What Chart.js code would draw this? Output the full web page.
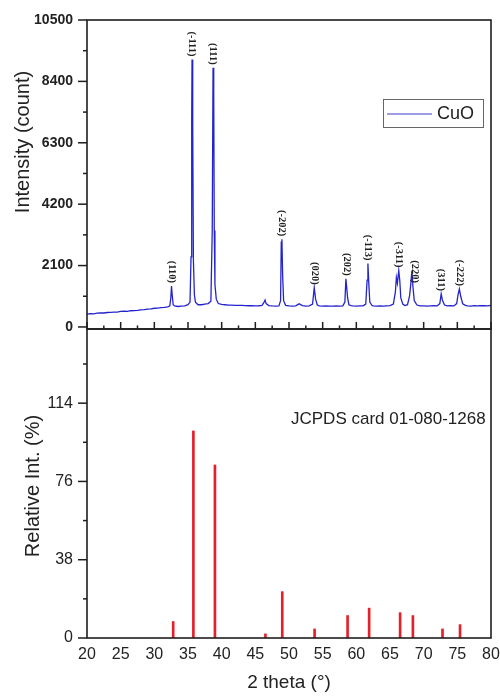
<!DOCTYPE html>
<html><head><meta charset="utf-8">
<script src="https://cdn.jsdelivr.net/npm/chart.js@4.4.0/dist/chart.umd.min.js"></script>
<style>
html,body{margin:0;padding:0;background:#fff;}
#wrap{position:relative;width:500px;height:696px;background:#fff;}
canvas{position:absolute;left:0;top:0;}
</style></head><body>
<div id="wrap"><canvas id="topChart" width="500" height="696"></canvas><canvas id="botChart" width="500" height="696"></canvas></div>
<script>
// ---- measured XRD pattern (CuO) ----
const thetaCuO = [20.0,20.5,21.0,21.5,22.0,22.5,23.0,23.5,24.0,24.5,25.0,25.5,26.0,26.5,27.0,27.5,28.0,28.5,29.0,29.5,30.0,30.5,31.0,31.5,32.0,32.3,32.45,32.55,32.65,32.8,33.0,33.5,34.0,34.5,35.0,35.3,35.45,35.55,35.6,35.7,35.8,35.95,36.1,36.5,37.0,37.5,38.0,38.4,38.6,38.72,38.82,38.9,39.0,39.2,39.5,40.0,40.5,41.0,41.5,42.0,42.5,43.0,43.5,44.0,44.5,45.0,45.5,46.0,46.3,46.45,46.6,47.0,47.5,48.0,48.5,48.75,48.85,48.95,49.05,49.2,49.5,50.0,50.5,51.0,51.5,52.0,52.5,53.0,53.5,53.75,53.95,54.2,54.5,55.0,55.5,56.0,56.5,57.0,57.5,58.0,58.3,58.45,58.55,58.7,58.9,59.2,59.5,60.0,60.5,61.0,61.4,61.6,61.72,61.85,62.0,62.3,62.5,63.0,63.5,64.0,64.5,65.0,65.5,65.8,65.95,66.1,66.3,66.45,66.6,66.9,67.2,67.6,67.9,68.1,68.25,68.4,68.6,69.0,69.5,70.0,70.5,71.0,71.5,72.0,72.4,72.6,72.8,73.1,73.5,74.0,74.5,74.9,75.1,75.3,75.5,75.8,76.2,76.5,77.0,77.5,78.0,78.5,79.0,79.5,80.0];
const intensityCuO = [440,455,450,470,480,478,495,500,510,505,530,540,535,555,560,570,585,590,610,620,640,645,660,670,690,720,1000,1400,1100,760,720,700,710,720,760,850,2400,7000,9150,6900,2300,1100,850,760,760,780,800,880,3300,8870,8000,3300,1450,950,800,770,760,750,745,740,735,740,730,725,730,720,725,740,850,920,800,730,720,715,720,900,2900,3000,1800,900,740,720,710,720,790,730,715,720,780,1340,950,750,720,715,720,710,715,720,710,720,850,1650,1400,1000,760,730,720,715,720,720,780,1600,2170,1500,850,740,720,715,720,710,720,730,780,1200,1690,1500,1930,1600,1000,780,730,760,1050,1500,1930,1400,900,750,720,720,710,720,730,720,800,1130,900,750,720,730,720,800,1100,1300,1050,790,740,720,715,730,720,725,730,720,740];
const peakLabels = ['(110)','(-111)','(111)','(-202)','(020)','(202)','(-113)','(-311)','(220)','(311)','(-222)'];
const peakLabelTheta = [32.55,35.6,38.72,48.9,53.75,58.5,61.72,66.3,68.7,72.6,75.3];

// ---- reference card JCPDS 01-080-1268 ----
const refTheta = [32.8,35.8,39.0,46.5,49.0,53.8,58.7,61.9,66.5,68.4,72.8,75.4];
const refIntensity = [8,100.5,84,2,22.5,4.4,10.9,14.5,12.3,10.9,4.4,6.5];

// ---- tick labels ----
const topYTicks = [0,2100,4200,6300,8400,10500];
const botYTicks = [0,38,76,114];
const xTickValues = [20,25,30,35,40,45,50,55,60,65,70,75,80];

const FONT = "'Liberation Sans', Arial, sans-serif";
const AXIS = '#1e1e1e';

function minorsOf(arr){const m=[];for(let i=0;i<arr.length-1;i++)m.push((arr[i]+arr[i+1])/2);return m;}

const topDecor = {
  id:'topDecor',
  afterDraw(chart){
    const {ctx, chartArea:a, scales:{x,y}} = chart;
    ctx.save();
    ctx.strokeStyle = AXIS; ctx.lineWidth = 1.5;
    topYTicks.forEach(v=>{const p=y.getPixelForValue(v);ctx.beginPath();ctx.moveTo(a.left-9,p);ctx.lineTo(a.left,p);ctx.stroke();});
    minorsOf(topYTicks).forEach(v=>{const p=y.getPixelForValue(v);ctx.beginPath();ctx.moveTo(a.left-4,p);ctx.lineTo(a.left,p);ctx.stroke();});
    xTickValues.forEach(v=>{const p=x.getPixelForValue(v);ctx.beginPath();ctx.moveTo(p,a.bottom);ctx.lineTo(p,a.bottom-7);ctx.stroke();});
    minorsOf(xTickValues).forEach(v=>{const p=x.getPixelForValue(v);ctx.beginPath();ctx.moveTo(p,a.bottom);ctx.lineTo(p,a.bottom-3.5);ctx.stroke();});
    ctx.lineWidth = 1.6;
    ctx.strokeRect(a.left, a.top, a.right-a.left, a.bottom-a.top);
    ctx.fillStyle = '#222';
    ctx.font = "bold 10.5px 'Liberation Serif', 'Times New Roman', serif";
    peakLabels.forEach((t,i)=>{
      const th = peakLabelTheta[i];
      let mx = 0;
      thetaCuO.forEach((v,j)=>{ if(Math.abs(v-th)<=0.45 && intensityCuO[j]>mx) mx=intensityCuO[j]; });
      const px = x.getPixelForValue(th), py = y.getPixelForValue(mx) - 3;
      ctx.save(); ctx.translate(px, py); ctx.rotate(Math.PI/2);
      ctx.textAlign='right'; ctx.textBaseline='middle';
      ctx.fillText(t, 0, 0); ctx.restore();
    });
    ctx.strokeStyle = '#666'; ctx.lineWidth = 1;
    ctx.strokeRect(383.5, 99.5, 100, 28);
    ctx.strokeStyle = '#3a3ad0'; ctx.lineWidth = 1.2;
    ctx.beginPath(); ctx.moveTo(387,114); ctx.lineTo(432,114); ctx.stroke();
    ctx.fillStyle = '#222'; ctx.font = '18px ' + FONT;
    ctx.textAlign='left'; ctx.textBaseline='middle';
    ctx.fillText(chart.data.datasets[0].label, 437, 114.5);
    ctx.save(); ctx.translate(23.5, 142); ctx.rotate(-Math.PI/2);
    ctx.textAlign='center'; ctx.textBaseline='middle'; ctx.font = '20px ' + FONT; ctx.fillStyle='#222';
    ctx.fillText('Intensity (count)', 0, 0); ctx.restore();
    ctx.restore();
  }
};

const botDecor = {
  id:'botDecor',
  afterDraw(chart){
    const {ctx, chartArea:a, scales:{y}} = chart;
    ctx.save();
    ctx.strokeStyle = AXIS; ctx.lineWidth = 1.5;
    botYTicks.forEach(v=>{const p=y.getPixelForValue(v);ctx.beginPath();ctx.moveTo(a.left-9,p);ctx.lineTo(a.left,p);ctx.stroke();});
    minorsOf(botYTicks.concat([152])).forEach(v=>{const p=y.getPixelForValue(v);ctx.beginPath();ctx.moveTo(a.left-4,p);ctx.lineTo(a.left,p);ctx.stroke();});
    ctx.lineWidth = 1.6;
    ctx.strokeRect(a.left, a.top, a.right-a.left, a.bottom-a.top);
    ctx.fillStyle = '#222'; ctx.font = '17px ' + FONT;
    ctx.textAlign='left'; ctx.textBaseline='middle';
    ctx.fillText('JCPDS card 01-080-1268', 291, 419);
    ctx.save(); ctx.translate(33, 486); ctx.rotate(-Math.PI/2);
    ctx.textAlign='center'; ctx.textBaseline='middle'; ctx.font = '20px ' + FONT;
    ctx.fillText('Relative Int. (%)', 0, 0); ctx.restore();
    ctx.restore();
  }
};

new Chart(document.getElementById('topChart'), {
  type:'line',
  data:{datasets:[{label:'CuO', data: thetaCuO.map((t,i)=>({x:t,y:intensityCuO[i]})),
    borderColor:'#2424cc', borderWidth:1.3, pointRadius:0, tension:0, fill:false}]},
  options:{
    responsive:false, animation:false, devicePixelRatio:1,
    layout:{padding:{top:20,right:9,bottom:367,left:0}},
    plugins:{legend:{display:false}, tooltip:{enabled:false}},
    scales:{
      x:{type:'linear', min:20, max:80, display:false},
      y:{type:'linear', min:-70, max:10500,
         afterFit(s){s.width=87; s.paddingTop=0; s.paddingBottom=0;},
         afterBuildTicks(s){s.ticks = topYTicks.map(v=>({value:v}));},
         ticks:{font:{family:FONT,size:14,weight:'bold'}, color:'#222', padding:14, callback:(v)=>String(v)},
         grid:{display:false, drawTicks:false}, border:{display:false}}
    }
  },
  plugins:[topDecor]
});

new Chart(document.getElementById('botChart'), {
  type:'bar',
  data:{datasets:[{label:'JCPDS', data: refTheta.map((t,i)=>({x:t,y:refIntensity[i]})),
    backgroundColor:'#e3202b', barThickness:2, borderWidth:0}]},
  options:{
    responsive:false, animation:false, devicePixelRatio:1,
    layout:{padding:{top:329,right:9,bottom:0,left:0}},
    plugins:{legend:{display:false}, tooltip:{enabled:false}},
    scales:{
      x:{type:'linear', min:20, max:80, offset:false,
         afterFit(s){s.height=58; s.paddingLeft=0; s.paddingRight=0;},
         afterBuildTicks(s){s.ticks = xTickValues.map(v=>({value:v}));},
         ticks:{font:{family:FONT,size:16}, color:'#222', padding:7, maxRotation:0, callback:(v)=>String(v)},
         grid:{display:false, drawTicks:false}, border:{display:false},
         title:{display:true, text:'2 theta (°)', font:{family:FONT,size:19}, color:'#222', padding:{top:0,bottom:2}}},
      y:{type:'linear', min:0, max:150,
         afterFit(s){s.width=87; s.paddingTop=0; s.paddingBottom=0;},
         afterBuildTicks(s){s.ticks = botYTicks.map(v=>({value:v}));},
         ticks:{font:{family:FONT,size:16}, color:'#222', padding:14, callback:(v)=>String(v)},
         grid:{display:false, drawTicks:false}, border:{display:false}}
    }
  },
  plugins:[botDecor]
});
</script>
</body></html>
